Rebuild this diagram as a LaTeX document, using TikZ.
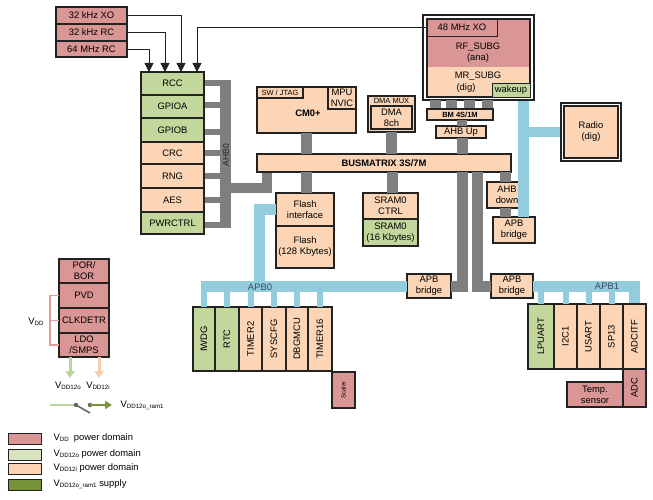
\documentclass[tikz,border=0pt]{standalone}
\usepackage{fontspec}
\setmainfont{Liberation Sans}
\usetikzlibrary{arrows.meta}
\definecolor{pk}{HTML}{D99694}
\definecolor{gr}{HTML}{C3D69B}
\definecolor{pe}{HTML}{FBD5B5}
\definecolor{dg}{HTML}{77933C}
\definecolor{lg}{HTML}{D7E4BD}
\definecolor{bgray}{HTML}{7F7F7F}
\definecolor{bblue}{HTML}{93CDDD}
\definecolor{brk}{HTML}{E39C9A}
\definecolor{ln}{HTML}{222222}
\definecolor{garrc}{HTML}{B9D59E}
\definecolor{parrc}{HTML}{F8CDAE}
\definecolor{swg}{HTML}{666666}
\definecolor{lbl}{HTML}{2E4A62}
\newcommand{\fn}{\fontsize{9.4}{11}\selectfont}
\newcommand{\fsm}{\fontsize{7.5}{8.5}\selectfont}
\newcommand{\ftiny}{\fontsize{6}{7}\selectfont}
\newcommand{\Vs}[1]{V\raisebox{-0.2ex}{\fontsize{6.2}{6}\selectfont #1}}
\newcommand{\bx}[7]{\node[bx,fill=#6,minimum width={#4-#2},minimum height={#5-#3}] (#1) at ({(#2+#4)/2},{(#3+#5)/2}) {#7};}
\begin{document}
\begin{tikzpicture}[x=1pt,y=-1pt,
  bx/.style={draw=ln,line width=1.3pt,inner sep=0pt,outer sep=0pt,align=center,font=\fn},
  gbus/.style={draw=bgray,line width=11pt},
  gstub/.style={draw=bgray,line width=6pt},
  bbus/.style={draw=bblue,line width=11pt},
  bstub/.style={draw=bblue,line width=6pt},
  clk/.style={draw=ln,line width=0.9pt,-{Triangle[width=9pt,length=9pt]}},
  rot/.style={rotate=90,font=\fn},
  brkl/.style={draw=brk,line width=1.5pt},
  txt/.style={font=\fn,align=center,inner sep=0pt}]
\useasboundingbox (0,0) rectangle (653,500);

% ---------- nodes: clocks ----------
\bx{xo}{56}{7}{127}{24}{pk}{32 kHz XO}
\bx{rc32}{56}{24}{127}{41}{pk}{32 kHz RC}
\bx{rc64}{56}{41}{127}{57}{pk}{64 MHz RC}

% ---------- bus bar AHB0 (behind) ----------
\fill[bgray] (220,80) rectangle (231,228);

% ---------- left column ----------
\bx{rcc}{141}{72}{204}{95}{gr}{RCC}
\bx{gpioa}{141}{95}{204}{118}{gr}{GPIOA}
\bx{gpiob}{141}{118}{204}{142}{gr}{GPIOB}
\bx{crc}{141}{142}{204}{164}{pe}{CRC}
\bx{rng}{141}{164}{204}{188}{pe}{RNG}
\bx{aes}{141}{188}{204}{212}{pe}{AES}
\bx{pwr}{141}{212}{204}{234}{gr}{PWRCTRL}
\foreach \n/\yy in {rcc/83,gpioa/105,gpiob/132,crc/153,rng/176,aes/200,pwr/225}
  \draw[gstub] (205,\yy) -- (221,\yy);
\node[rotate=90,font=\fontsize{8.5}{9}\selectfont,text=ln,inner sep=0pt] (ahb0) at (226,155) {AHB0};

% ---------- RF block ----------
\node[draw=ln,fill=white,line width=1.3pt,minimum width=111,minimum height=85,inner sep=0pt] (rf) at (478.5,57.5) {};
\node[fill=pk,minimum width=103,minimum height=48,inner sep=0pt] (rfa) at (478.5,43) {};
\node[fill=pe,minimum width=103,minimum height=30,inner sep=0pt] (mr) at (478.5,82) {};
\node[draw=ln,line width=1.3pt,minimum width=103,minimum height=78,inner sep=0pt] (rfin) at (478.5,58) {};
\node[draw=ln,fill=pk,line width=0.8pt,minimum width=70,minimum height=17,inner sep=0pt,font=\fn] (xo48) at (462,27.5) {48 MHz XO};
\node[txt] at (478,53) {RF\_SUBG\\(ana)};
\node[txt] at (478,76) {MR\_SUBG};
\node[txt] at (466,88) {(dig)};
\node[draw=ln,fill=gr,line width=0.6pt,minimum width=38,minimum height=14,inner sep=0pt,font=\fn] (wake) at (511,90) {wakeup};

% ---------- Radio ----------
\node[draw=ln,fill=white,line width=1.3pt,minimum width=60,minimum height=58,inner sep=0pt] (radioo) at (591,132) {};
\bx{radio}{564}{106}{618}{158}{pe}{Radio\\(dig)}

% ---------- gray buses ----------
\draw[gbus,line width=10pt] (226,188) -| (266.5,172);
\foreach \xx in {435,451.5,469.5,487}
  \draw[gbus] (\xx,100) -- (\xx,109.5);

% ---------- CPU / DMA / matrix ----------
\bx{cm}{257}{87}{356}{133}{pe}{}
\node[font=\bfseries\fn] at (308,113) {CM0+};
\bx{jtag}{257}{87}{303}{98}{pe}{\fsm SW / JTAG}
\bx{mpu}{328}{87}{356}{109}{pe}{MPU\\NVIC}
\bx{dmamux}{368}{96}{415}{132}{pe}{}
\node[font=\fsm] at (391.5,101) {DMA MUX};
\bx{dma}{371}{106}{412}{129}{pe}{DMA\\8ch}
\bx{bm}{257}{154}{511}{172}{pe}{\bfseries BUSMATRIX 3S/7M}
\bx{bmm}{427}{109}{493}{120}{pe}{\bfseries\fsm BM 4S/1M}
\bx{ahbu}{436}{126}{486}{138}{pe}{AHB Up}
\bx{ahbd}{487}{182}{527}{208}{pe}{AHB\\down}
\bx{apbu}{493}{217}{535}{243}{pe}{APB\\bridge}
\bx{fi}{276}{193}{334}{226}{pe}{Flash\\interface}
\bx{fl}{276}{226}{334}{268}{pe}{Flash\\(128 Kbytes)}
\bx{sc}{363}{193}{418}{219}{pe}{SRAM0\\CTRL}
\bx{sr}{363}{219}{418}{246}{gr}{SRAM0\\(16 Kbytes)}
\bx{apbl}{407}{274}{451}{298}{pe}{APB\\bridge}
\bx{apbr}{491}{274}{533}{298}{pe}{APB\\bridge}

\draw[gbus] (cm.south -| 306,0) -- (bm.north -| 306,0);
\draw[gbus] (dmamux.south -| 391,0) -- (bm.north -| 391,0);
\draw[gbus] (bm.south -| 306,0) -- (fi.north -| 306,0);
\draw[gbus] (bm.south -| 392,0) -- (sc.north -| 392,0);
\draw[gbus,line width=10pt] (bmm.south -| 462,0) -- (ahbu.north -| 462,0);
\draw[gbus] (ahbu.south -| 462,0) -- (bm.north -| 462,0);
\draw[gbus] (bm.south -| 462,0) |- (apbl.east);
\draw[gbus] (bm.south -| 477.5,0) |- (apbr.west);
\draw[gbus] (bm.south -| 505.5,0) -- (ahbd.north -| 505.5,0);
\draw[gbus] (ahbd.south -| 505.5,0) -- (apbu.north -| 505.5,0);

% ---------- blue buses ----------
\draw[bbus] (rf.south -| 523.5,0) -- (apbu.north -| 523.5,0);
\draw[bbus,line width=10pt] (radioo.west) -- (radioo.west -| 523.5,0);
\draw[bbus] (fi.west) -| (apbl.west -| 259,0);
\draw[bbus] (apbl.west) -- (apbl.west -| 201,0);
\draw[bbus] (apbr.east) -| (634.5,304);

% ---------- APB0 peripherals ----------
\bx{iwdg}{193}{307}{215}{371}{gr}{}
\bx{rtc}{215}{307}{239}{371}{gr}{}
\bx{tim2}{239}{307}{262}{371}{pe}{}
\bx{syscfg}{262}{307}{286}{371}{pe}{}
\bx{dbg}{286}{307}{308}{371}{pe}{}
\bx{tim16}{308}{307}{332}{371}{pe}{}
\bx{scaler}{332}{372}{355}{408}{pk}{}
\foreach \n/\t in {iwdg/IWDG,rtc/RTC,tim2/TIMER2,syscfg/SYSCFG,dbg/DBGMCU,tim16/TIMER16}{
  \node[rot] at (\n) {\t};
  \draw[bstub] (\n.north) -- (\n.north |- apbl.west);
}
\node[rotate=90,font=\ftiny] at (scaler) {Scaler};
\node[font=\fn,text=lbl] (apb0) at (260,287) {APB0};

% ---------- APB1 peripherals ----------
\bx{lpuart}{528}{304}{554}{369}{gr}{}
\bx{i2c}{554}{304}{577}{369}{pe}{}
\bx{usart}{577}{304}{600}{369}{pe}{}
\bx{sp13}{600}{304}{623}{369}{pe}{}
\bx{adcitf}{623}{304}{646}{369}{pe}{}
\foreach \n/\t in {lpuart/LPUART,i2c/I2C1,usart/USART,sp13/SP13}{
  \node[rot] at (\n) {\t};
  \draw[bstub] (\n.north) -- (\n.north |- apbr.east);
}
\node[rot] at (adcitf) {ADCITF};
\bx{adc}{623}{369}{646}{407}{pk}{}
\node[rot] at (adc) {ADC};
\bx{temp}{567}{382}{623}{407}{pk}{Temp.\\sensor}
\node[font=\fn,text=lbl] (apb1) at (607,286) {APB1};

% ---------- clock arrows ----------
\draw[clk] (xo.east) -| (rcc.north -| 181,0);
\draw[clk] (rc32.east) -| (rcc.north -| 165,0);
\draw[clk] (rc64.east) -| (rcc.north -| 149,0);
\draw[clk] (xo48.west) -| (rcc.north -| 197,0);

% ---------- power ----------
\bx{por}{59}{259}{109}{283}{pk}{POR/\\BOR}
\bx{pvd}{59}{283}{109}{308}{pk}{PVD}
\bx{clkd}{59}{308}{109}{333}{pk}{CLKDETR}
\bx{ldo}{59}{333}{109}{357}{pk}{LDO\\/SMPS}
\draw[brkl] (pvd.west) -- ++(-9,0) |- (ldo.west);
\draw[brkl] (clkd.west) -- ++(-9,0);
\node[font=\fn] (vdd) at (36,322) {\Vs{DD}};
\coordinate (go) at (70,378);
\coordinate (gi) at (99,378);
\draw[draw=garrc,line width=3pt,-{Triangle[width=9pt,length=7pt]}] (ldo.south -| go) -- (go);
\draw[draw=parrc,line width=3pt,-{Triangle[width=9pt,length=7pt]}] (ldo.south -| gi) -- (gi);
\node[font=\fn] at (68,386) {\Vs{DD12o}};
\node[font=\fn] at (98,386) {\Vs{DD12i}};
% switch
\coordinate (s0) at (50,405);
\coordinate (s1) at (76,405);
\coordinate (s2) at (90,405);
\coordinate (s3) at (112,405);
\draw[draw=garrc,line width=2.2pt] (s0) -- (s1);
\draw[draw=swg,line width=1.6pt] (s1) -- (90,413);
\fill[swg] (s1) circle (2.2);
\fill[swg] (s2) circle (2.2);
\draw[draw=dg,line width=2.2pt,-{Triangle[width=8pt,length=7pt]}] (s2) -- (s3);
\node[font=\fn,anchor=west] (ram1) at (117,405) {\Vs{DD12o\_ram1}};

% ---------- legend ----------
\foreach \yy/\c in {433/pk,449/lg,463/pe,479/dg}
  \draw[draw=ln,line width=0.9pt,fill=\c] (8,\yy) rectangle (41,\yy+11);
\node[font=\fn,anchor=west] at (50,438.5) {\Vs{DD}\ \ power domain};
\node[font=\fn,anchor=west] at (50,454) {\Vs{DD12o} power domain};
\node[font=\fn,anchor=west] at (50,468.5) {\Vs{DD12i} power domain};
\node[font=\fn,anchor=west] at (50,484.5) {\Vs{DD12o\_ram1} supply};
\end{tikzpicture}
\end{document}
